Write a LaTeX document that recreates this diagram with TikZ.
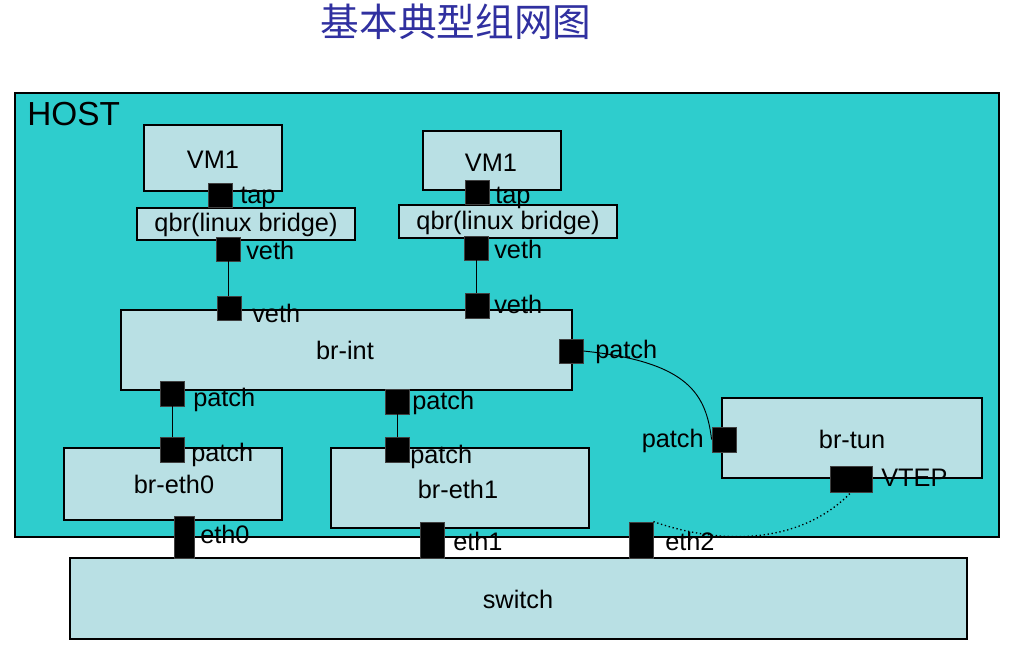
\documentclass[tikz,border=0pt]{standalone}
\usepackage{fontspec}
\setmainfont{Liberation Sans}
\newfontfamily\cjkfont{Noto Sans CJK SC}
\usetikzlibrary{fit}
\definecolor{hostc}{RGB}{46,205,205}
\definecolor{boxc}{RGB}{185,224,228}
\definecolor{titlec}{RGB}{48,48,160}
\begin{document}
\begin{tikzpicture}[x=0.75pt,y=-0.75pt,
  hostbox/.style={draw=black, fill=hostc, line width=0.8pt, inner sep=0pt},
  box/.style={draw=black, fill=boxc, line width=0.8pt, inner sep=0pt},
  port/.style={draw=black!75, fill=black, line width=0.6pt, inner sep=0pt},
  lbl/.style={font=\fontsize{19}{22}\selectfont, inner sep=0pt, anchor=base west},
  ctr/.style={font=\fontsize{19}{22}\selectfont, inner sep=0pt, anchor=base},
  link/.style={draw=black, line width=0.7pt}]
\useasboundingbox (0,0) rectangle (1016,654);
\fill[white] (0,0) rectangle (1016,654);

% title
\node[font=\cjkfont\fontsize{29}{32}\selectfont, text=titlec, inner sep=0pt] (title) at (456,22) {基本典型组网图};

% host
\node[hostbox, fit={(15,93)(999,537)}] (host) {};
\node[font=\fontsize{25}{28}\selectfont, inner sep=0pt, anchor=base west] (hostlbl) at (27,125) {HOST};

% boxes
\node[box, fit={(144,125)(282,191)}] (vm1a) {};
\node[box, fit={(423,131)(561,190)}] (vm1b) {};
\node[box, fit={(137,208)(355,240)}] (qbra) {};
\node[box, fit={(399,205)(617,238)}] (qbrb) {};
\node[box, fit={(121,310)(572,390)}] (brint) {};
\node[box, fit={(64,448)(282,520)}] (breth0) {};
\node[box, fit={(331,448)(589,528)}] (breth1) {};
\node[box, fit={(722,398)(982,478)}] (brtun) {};
\node[box, fit={(70,558)(967,639)}] (switch) {};

% box texts
\node[ctr] (tvm1a) at (213,168) {VM1};
\node[ctr] (tvm1b) at (491,171) {VM1};
\node[ctr] (tqbra) at (246,231) {qbr(linux bridge)};
\node[ctr] (tqbrb) at (508,229) {qbr(linux bridge)};
\node[ctr] (tbrint) at (345,359) {br-int};
\node[ctr] (tbreth0) at (174,493) {br-eth0};
\node[ctr] (tbreth1) at (458,498) {br-eth1};
\node[ctr] (tbrtun) at (852,448) {br-tun};
\node[ctr] (tswitch) at (518,608) {switch};

% ports
\node[port, fit={(208,183)(232,207)}] (tapa) {};
\node[port, fit={(465,180)(489,204)}] (tapb) {};
\node[port, fit={(216,237)(240,261)}] (vethua) {};
\node[port, fit={(464,236)(488,260)}] (vethub) {};
\node[port, fit={(217,296)(241,320)}] (vethla) {};
\node[port, fit={(465,293)(489,318)}] (vethlb) {};
\node[port, fit={(559,339)(583,363)}] (pbrint) {};
\node[port, fit={(160,381)(184,406)}] (pua) {};
\node[port, fit={(385,389)(409,414)}] (pub) {};
\node[port, fit={(160,437)(184,462)}] (pla) {};
\node[port, fit={(385,437)(409,462)}] (plb) {};
\node[port, fit={(712,427)(736,452)}] (ptun) {};
\node[port, fit={(830,466)(872,492)}] (vtep) {};
\node[port, fit={(174,516)(194,558)}] (eth0) {};
\node[port, fit={(420,522)(444,558)}] (eth1) {};
\node[port, fit={(629,522)(653,558)}] (eth2) {};

% port labels
\node[lbl] (ltapa) at (240,203) {tap};
\node[lbl] (ltapb) at (495,203) {tap};
\node[lbl] (lvethua) at (246,259) {veth};
\node[lbl] (lvethub) at (494,258) {veth};
\node[lbl] (lvethla) at (252,322) {veth};
\node[lbl] (lvethlb) at (494,313) {veth};
\node[lbl] (lpbrint) at (595,358) {patch};
\node[lbl] (lpua) at (193,406) {patch};
\node[lbl] (lpub) at (412,409) {patch};
\node[lbl] (lpla) at (191,461) {patch};
\node[lbl] (lplb) at (410,463) {patch};
\node[lbl, anchor=base east] (lptun) at (704,447) {patch};
\node[lbl] (lvtep) at (881,486) {VTEP};
\node[lbl] (leth0) at (200,543) {eth0};
\node[lbl] (leth1) at (453,550) {eth1};
\node[lbl] (leth2) at (665,550) {eth2};

% connectors
\draw[link] (vethua.south) -- (vethua.south |- vethla.north);
\draw[link] (vethub.south) -- (vethub.south |- vethlb.north);
\draw[link] (pua) -- (pla);
\draw[link] (pub) -- (plb);
\draw[link] (pbrint.east) .. controls (690,362) and (706,395) .. (ptun.west);
\draw[black, line width=1pt, dotted] (eth2.north east) .. controls (720,545) and (800,545) .. (vtep.south);
\end{tikzpicture}
\end{document}
